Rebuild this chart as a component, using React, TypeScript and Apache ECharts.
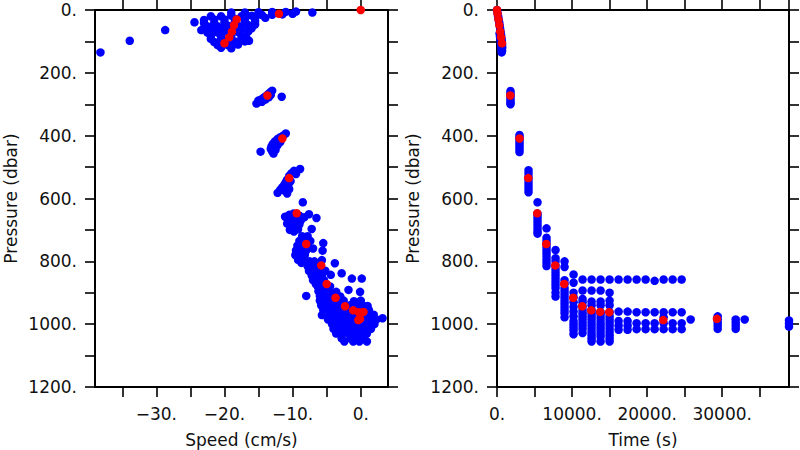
import React, { useEffect, useRef } from "react";
import * as echarts from "echarts";

// ---------- Left panel: speed (cm/s) vs pressure (dbar) ----------
const surfaceCluster: number[][] = [
  [-38.2, 135], [-33.9, 98], [-28.7, 64], [-24.4, 39], [-23.4, 64], [-16.4, 98], [-7.1, 8],
  [-19, 8], [-17, 8], [-15, 7], [-13, 6], [-11, 6], [-9.5, 5], [-10, 12],
  [-22, 20], [-20.5, 20], [-19, 18], [-17.5, 20], [-16, 18], [-14.5, 16], [-13, 15], [-11.5, 14],
  [-23, 32], [-21.5, 30], [-20, 30], [-18.5, 28], [-17, 28], [-15.5, 26], [-14, 25],
  [-23, 42], [-21.5, 42], [-20, 40], [-18.5, 40], [-17, 38], [-15.5, 36],
  [-22.5, 52], [-21, 52], [-19.5, 50], [-18, 50], [-16.5, 48], [-15.5, 46],
  [-22, 62], [-20.5, 62], [-19, 60], [-17.5, 60], [-16, 58],
  [-22.5, 72], [-21, 72], [-19.5, 70], [-18, 70], [-16.5, 68],
  [-22, 82], [-20.5, 82], [-19, 80], [-17.5, 80],
  [-22, 92], [-20.5, 92], [-19, 90], [-17.5, 90], [-16.8, 88],
  [-21.5, 102], [-20, 102], [-18.5, 100], [-17, 100],
  [-21, 112], [-19.5, 112], [-18, 110],
  [-20.5, 120], [-19, 122],
];

const cluster270: number[][] = [
  [-15.3, 298], [-15, 292], [-14.7, 286], [-14.3, 280], [-14, 275], [-13.6, 268],
  [-13.3, 262], [-13, 257], [-14.5, 292], [-14, 285], [-13.5, 278], [-13.2, 270],
  [-15, 288], [-11.6, 276],
];

const cluster420: number[][] = [
  [-11, 393], [-11.4, 400], [-11.8, 405], [-12.2, 410], [-12.6, 418], [-12.9, 426],
  [-13.1, 434], [-13.2, 442], [-13, 450], [-12.8, 457], [-12.5, 445], [-12.2, 430],
  [-11.8, 420], [-12.5, 425], [-12.8, 438], [-14.7, 451],
];

const cluster540: number[][] = [
  [-8.9, 506], [-9.8, 512], [-10.2, 520], [-10.5, 528], [-10.8, 540], [-11, 548],
  [-11.2, 556], [-11.5, 564], [-11.8, 572], [-12.2, 582], [-10.8, 584], [-10.5, 570],
  [-10.6, 555], [-9.5, 522], [-11.2, 575], [-10.3, 545],
];

const cluster650: number[][] = [
  [-8.5, 612], [-11.1, 658], [-10.5, 652], [-9.9, 648], [-9, 655], [-8.3, 660],
  [-7.6, 650], [-6.5, 662], [-10.6, 668], [-10, 665], [-9.4, 672], [-8.8, 670],
  [-10.8, 680], [-10.2, 685], [-9.6, 690], [-9, 682], [-10.4, 700], [-9.8, 705],
  [-9.2, 698], [-7.2, 697],
];

const cluster760: number[][] = [
  [-8.6, 720], [-7.8, 720], [-9, 735], [-8.2, 735], [-7.4, 735],
  [-9.3, 750], [-8.6, 750], [-7.8, 750], [-7, 759],
  [-9.5, 765], [-8.8, 765], [-8, 765], [-5.6, 766], [-5.5, 742],
  [-9.6, 780], [-8.9, 780], [-8.2, 780], [-9.2, 795], [-8.5, 795], [-5.7, 796], [-8.7, 805],
];

const cluster840: number[][] = [
  [-7.5, 800], [-6.8, 800], [-7.8, 815], [-7, 815], [-6.3, 815], [-3.8, 806],
  [-7.6, 830], [-6.8, 830], [-6, 830], [-5.2, 830],
  [-7.2, 845], [-6.5, 845], [-5.7, 845], [-4.4, 843], [-2.8, 838],
  [-7, 860], [-6.2, 860], [-5.4, 860], [-6.6, 872], [-5.8, 875],
  [-1.3, 855], [0.15, 855],
];

const deepCluster: number[][] = [
  [-6.3, 880], [-5.5, 882], [-4.5, 880],
  [-6.2, 895], [-5.3, 895], [-4.6, 895], [-3.6, 897], [-1.8, 891], [-0.1, 897],
  [-6, 910], [-5.2, 910], [-4.4, 910], [-3, 912], [-8, 910],
  [-6, 925], [-5.1, 925], [-4.2, 925], [-3.3, 925], [-2.5, 925], [-1, 927], [0, 925],
  [-5.8, 940], [-4.9, 940], [-4, 940], [-3.2, 940], [-1.6, 940], [-0.7, 942], [0.3, 940], [1, 942],
  [-5.5, 955], [-4.6, 955], [-3.8, 955], [-2.9, 955], [-2, 955], [0, 955], [1.2, 955],
  [-5.7, 971], [-4.5, 970], [-3.6, 970], [-2.8, 970], [-1.9, 970], [-1, 970], [0, 970], [1, 970], [1.9, 970],
  [-4.8, 985], [-4, 985], [-3.1, 985], [-2.2, 985], [-1.3, 985], [-0.4, 985], [0.6, 985], [1.5, 985], [2.3, 985], [3.2, 981],
  [-4.2, 1000], [-3.3, 1000], [-2.4, 1000], [-1.5, 1000], [-0.6, 1000], [0.3, 1000], [1.2, 1000], [2, 1000],
  [-4, 1015], [-3, 1015], [-2.1, 1015], [-1.2, 1015], [-0.3, 1015], [0.6, 1015], [1.5, 1015],
  [-3.6, 1030], [-2.7, 1030], [-1.8, 1030], [-0.9, 1030], [0, 1030], [0.9, 1030],
  [-2.8, 1045], [-1.5, 1045], [-0.5, 1045], [0.5, 1045],
  [-2.4, 1055], [-1.1, 1055], [-0.2, 1055], [0.9, 1055],
];

// ---------- Red (mean) track ----------
const redTime = [0, 75, 190, 300, 430, 545, 660, 1770, 3000, 4160, 5360, 6560, 7760, 8950, 10150, 11350, 12550, 13740, 14950, 22150, 29300];
const redPressure = [0, 12, 30, 48, 69, 87, 106, 272, 409, 535, 647, 745, 813, 872, 916, 943, 956, 961, 962, 987, 983];
const redSpeed = [0, -12, -18.2, -18.6, -18.9, -19.3, -20, -13.7, -11.5, -10.5, -9.4, -8, -5.8, -5, -3.7, -2.3, -1.1, 0.4, -0.3, -0.35, -0.1];

// ---------- Right panel: time (s) vs pressure (dbar) ----------
const descentTimePressure: number[][] = [
  [0, 0], [80, 10], [150, 20], [220, 30], [300, 40], [360, 50], [420, 60], [480, 70],
  [540, 80], [600, 90], [640, 100], [680, 110], [700, 120], [680, 130], [600, 125],
  [560, 115], [520, 105], [460, 95], [400, 85], [340, 75], [620, 135],
];

const stepTimes = [1800, 3000, 4200, 5400, 6600, 7800, 9000, 10200, 11400, 12600, 13800, 15000, 16200, 17400, 18600, 19800, 21000, 22200, 23400, 24600, 25800, 29400, 31800, 33000, 38900];
const stepPressures: number[][] = [
  [258, 265, 272, 280, 288, 295, 300],
  [398, 405, 412, 420, 428, 436, 444, 452],
  [510, 520, 530, 540, 550, 560, 570, 580],
  [612, 648, 656, 665, 675, 685, 695, 705, 712],
  [695, 725, 735, 745, 755, 765, 775, 785, 795, 805, 815],
  [764, 790, 800, 814, 825, 835, 845, 855, 865, 875, 885, 900, 912],
  [800, 818, 860, 872, 885, 895, 905, 915, 925, 935, 945, 955, 965, 978],
  [842, 868, 900, 915, 930, 945, 960, 975, 990, 1000, 1010, 1020, 1032],
  [858, 893, 920, 930, 943, 955, 965, 975, 985, 995, 1005, 1015, 1028],
  [858, 893, 928, 940, 956, 965, 975, 985, 995, 1005, 1015, 1025, 1035, 1045, 1055],
  [858, 893, 928, 940, 962, 970, 980, 990, 1000, 1010, 1020, 1030, 1040, 1055],
  [858, 900, 925, 940, 962, 975, 985, 995, 1005, 1015, 1025, 1035, 1045, 1055],
  [858, 960, 990, 1005, 1018],
  [858, 960, 990, 1005, 1018],
  [858, 962, 997, 1016],
  [858, 962, 997, 1016],
  [862, 962, 997, 1016],
  [858, 962, 978, 997, 1016],
  [858, 962, 997, 1016],
  [858, 962, 997, 1016],
  [985],
  [975, 985, 995, 1005, 1015],
  [985, 995, 1005, 1015],
  [985],
  [988, 998, 1008],
];

// ---------- Axis ticks / labels ----------
const speedTicks = [-35, -30, -25, -20, -15, -10, -5, 0];
const speedLabels = [-30, -20, -10, 0];
const speedRange = [-39, 4];
const timeRange = [0, 38900];
const pressureRange = [0, 1200];

const FONT = "DejaVu Sans";
const INK = "#111";

export default function App() {
  const ref = useRef<HTMLDivElement>(null);

  useEffect(() => {
    if (!ref.current) return;
    const chart = echarts.init(ref.current, null, { renderer: "svg" });

    const leftBlue = [
      ...surfaceCluster, ...cluster270, ...cluster420, ...cluster540,
      ...cluster650, ...cluster760, ...cluster840, ...deepCluster,
    ];
    const leftRed = redSpeed.map((s, i) => [s, redPressure[i]]);
    const rightBlue: number[][] = [...descentTimePressure];
    stepTimes.forEach((t, i) => stepPressures[i].forEach((p) => rightBlue.push([t, p])));
    const rightRed = redTime.map((t, i) => [t, redPressure[i]]);

    const axisLine = { show: true, onZero: false, lineStyle: { color: "#000", width: 2 } };
    const tick = { show: true, inside: false, length: 10, lineStyle: { color: "#000", width: 1.6 } };
    const label = { color: INK, fontFamily: FONT, fontSize: 17 };
    const nameStyle = { color: INK, fontFamily: FONT, fontSize: 17 };
    const fmtNum = (v: number) => (v < 0 ? "\u2212" + Math.abs(v) : String(v)) + ".";

    const speedAxis = (pos: "bottom" | "top") => ({
      type: "value", gridIndex: 0, position: pos,
      min: speedRange[0], max: speedRange[1],
      axisLine, splitLine: { show: false },
      axisTick: { ...tick, customValues: speedTicks },
      axisLabel: pos === "bottom"
        ? { ...label, margin: 18, customValues: speedLabels, formatter: fmtNum }
        : { show: false },
      name: pos === "bottom" ? "Speed (cm/s)" : "",
      nameLocation: "middle", nameGap: 44, nameTextStyle: nameStyle,
    });
    const timeAxis = (pos: "bottom" | "top") => ({
      type: "value", gridIndex: 1, position: pos,
      min: timeRange[0], max: timeRange[1], interval: 5000,
      axisLine, splitLine: { show: false },
      axisTick: tick,
      axisLabel: pos === "bottom"
        ? { ...label, margin: 18, showMaxLabel: false, formatter: (v: number) => (v % 10000 === 0 ? fmtNum(v) : "") }
        : { show: false },
      name: pos === "bottom" ? "Time (s)" : "",
      nameLocation: "middle", nameGap: 44, nameTextStyle: nameStyle,
    });
    const pressureAxis = (grid: number, pos: "left" | "right") => ({
      type: "value", gridIndex: grid, position: pos, inverse: true,
      min: pressureRange[0], max: pressureRange[1], interval: 100,
      axisLine, splitLine: { show: false },
      axisTick: tick,
      axisLabel: pos === "left"
        ? { ...label, margin: 18, formatter: (v: number) => (v % 200 === 0 ? fmtNum(v) : "") }
        : { show: false },
      name: pos === "left" ? "Pressure (dbar)" : "",
      nameLocation: "middle", nameGap: 76, nameRotate: 90, nameTextStyle: nameStyle,
    });

    const dot = (color: string) => ({ color, opacity: 1 });

    chart.setOption({
      animation: false,
      backgroundColor: "#fff",
      grid: [
        { left: 95, top: 10, width: 293, height: 377, outerBoundsMode: "none", containLabel: false },
        { left: 497, top: 10, width: 292, height: 377, outerBoundsMode: "none", containLabel: false },
      ],
      xAxis: [speedAxis("bottom"), speedAxis("top"), timeAxis("bottom"), timeAxis("top")],
      yAxis: [pressureAxis(0, "left"), pressureAxis(0, "right"), pressureAxis(1, "left"), pressureAxis(1, "right")],
      series: [
        { type: "scatter", xAxisIndex: 0, yAxisIndex: 0, data: leftBlue, symbolSize: 8.5, clip: true, itemStyle: dot("#0000ff") },
        { type: "scatter", xAxisIndex: 0, yAxisIndex: 0, data: leftRed, symbolSize: 8.5, clip: true, itemStyle: dot("#ff0000") },
        { type: "scatter", xAxisIndex: 2, yAxisIndex: 2, data: rightBlue, symbolSize: 8.5, clip: true, itemStyle: dot("#0000ff") },
        { type: "scatter", xAxisIndex: 2, yAxisIndex: 2, data: rightRed, symbolSize: 8.5, clip: true, itemStyle: dot("#ff0000") },
      ],
    });
    return () => chart.dispose();
  }, []);

  return <div ref={ref} style={{ position: "fixed", left: 0, top: 0, width: 800, height: 450 }} />;
}
